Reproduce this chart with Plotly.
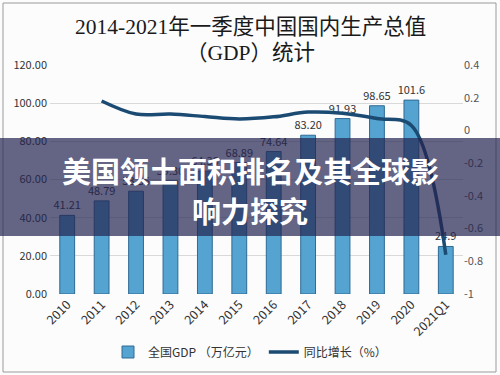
import plotly.graph_objects as go

categories = ["2010", "2011", "2012", "2013", "2014", "2015", "2016", "2017", "2018", "2019", "2020", "2021Q1"]
gdp_values = [41.21, 48.79, 53.86, 59.30, 64.36, 68.89, 74.64, 83.20, 91.93, 98.65, 101.6, 24.9]
gdp_labels = ["41.21", "48.79", "53.86", "59.30", "64.36", "68.89", "74.64", "83.20", "91.93", "98.65", "101.6", "24.9"]
growth_values = [None, 0.18, 0.10, 0.10, 0.085, 0.07, 0.083, 0.112, 0.105, 0.073, 0.03, -0.76]
left_ticks = [0, 20, 40, 60, 80, 100, 120]
left_tick_labels = ["0.00", "20.00", "40.00", "60.00", "80.00", "100.00", "120.00"]
right_ticks = [-1, -0.8, -0.6, -0.4, -0.2, 0, 0.2, 0.4]
right_tick_labels = ["-1", "-0.8", "-0.6", "-0.4", "-0.2", "0", "0.2", "0.4"]

W, H = 500, 375
ml, mr, mt, mb = 50, 37, 65, 81
pw, ph = W - ml - mr, H - mt - mb

def px_x(x):
    return (x - ml) / pw

def px_y(y):
    return (H - mb - y) / ph

fig = go.Figure()
fig.add_trace(go.Bar(
    x=categories, y=gdp_values, name="全国GDP （万亿元）",
    text=gdp_labels, textposition="outside", cliponaxis=False, constraintext="none",
    textfont=dict(size=11, color="#333333"),
    marker=dict(color="#55a3d0", line=dict(color="#2e6a94", width=1)),
    width=0.43,
))
fig.add_trace(go.Scatter(
    x=categories, y=growth_values, name="同比增长（%）", yaxis="y2",
    mode="lines", line=dict(color="#1b4a72", width=3.5), line_shape="spline",
))

font_cjk = "Noto Sans CJK SC, Noto Sans, sans-serif"
fig.update_layout(
    width=W, height=H,
    margin=dict(l=ml, r=mr, t=mt, b=mb, autoexpand=False),
    paper_bgcolor="#fcfcfd", plot_bgcolor="#fcfcfd",
    font=dict(family=font_cjk, size=11, color="#333333"),
    showlegend=True,
    legend=dict(orientation="h", x=px_x(250), xanchor="center", y=px_y(352), yanchor="middle",
                font=dict(size=12, color="#333333"), bgcolor="rgba(0,0,0,0)", traceorder="normal"),
    xaxis=dict(type="category", tickangle=-45, tickfont=dict(size=12.5, color="#333333"),
               showgrid=False, showline=False, ticks="", automargin=False),
    yaxis=dict(range=[0, 120], tickvals=left_ticks, ticktext=left_tick_labels,
               gridcolor="#d9d9d9", gridwidth=1, zeroline=False, showline=False, automargin=False,
               tickfont=dict(size=11, color="#333333"), ticklabelstandoff=2),
    yaxis2=dict(range=[-1, 0.4], tickvals=right_ticks, ticktext=right_tick_labels,
                overlaying="y", side="right", showgrid=False, zeroline=False, showline=False,
                automargin=False, tickfont=dict(size=11, color="#555555")),
    bargap=0.57,
)

# outer frame
fig.add_shape(type="rect", xref="paper", yref="paper",
              x0=px_x(3), x1=px_x(496), y0=px_y(372), y1=px_y(3),
              line=dict(color="#9a9a9a", width=1), fillcolor="rgba(0,0,0,0)", layer="below")

# title
title_font = "Liberation Serif, Noto Sans CJK SC, serif"
fig.add_annotation(text="2014-2021年一季度中国国内生产总值", xref="paper", yref="paper",
                   x=px_x(250), y=px_y(27), xanchor="center", yanchor="middle", showarrow=False,
                   font=dict(family=title_font, size=21.5, color="#1a1a1a"))
fig.add_annotation(text="（GDP）统计", xref="paper", yref="paper",
                   x=px_x(250), y=px_y(53), xanchor="center", yanchor="middle", showarrow=False,
                   font=dict(family=title_font, size=21.5, color="#1a1a1a"))

# overlay banner
fig.add_shape(type="rect", xref="paper", yref="paper",
              x0=px_x(0), x1=px_x(500), y0=px_y(236), y1=px_y(138),
              line=dict(width=0), fillcolor="rgba(35,35,80,0.70)", layer="above")
fig.add_annotation(text="<b>美国领土面积排名及其全球影</b>", xref="paper", yref="paper",
                   x=px_x(250), y=px_y(170), xanchor="center", yanchor="middle", showarrow=False,
                   font=dict(family=font_cjk, size=29, color="#ffffff"))
fig.add_annotation(text="<b>响力探究</b>", xref="paper", yref="paper",
                   x=px_x(250), y=px_y(210), xanchor="center", yanchor="middle", showarrow=False,
                   font=dict(family=font_cjk, size=29, color="#ffffff"))

fig.write_html("out.html", config={"displayModeBar": False},
               post_script="document.body.style.margin='0';document.body.style.overflow='hidden';")
